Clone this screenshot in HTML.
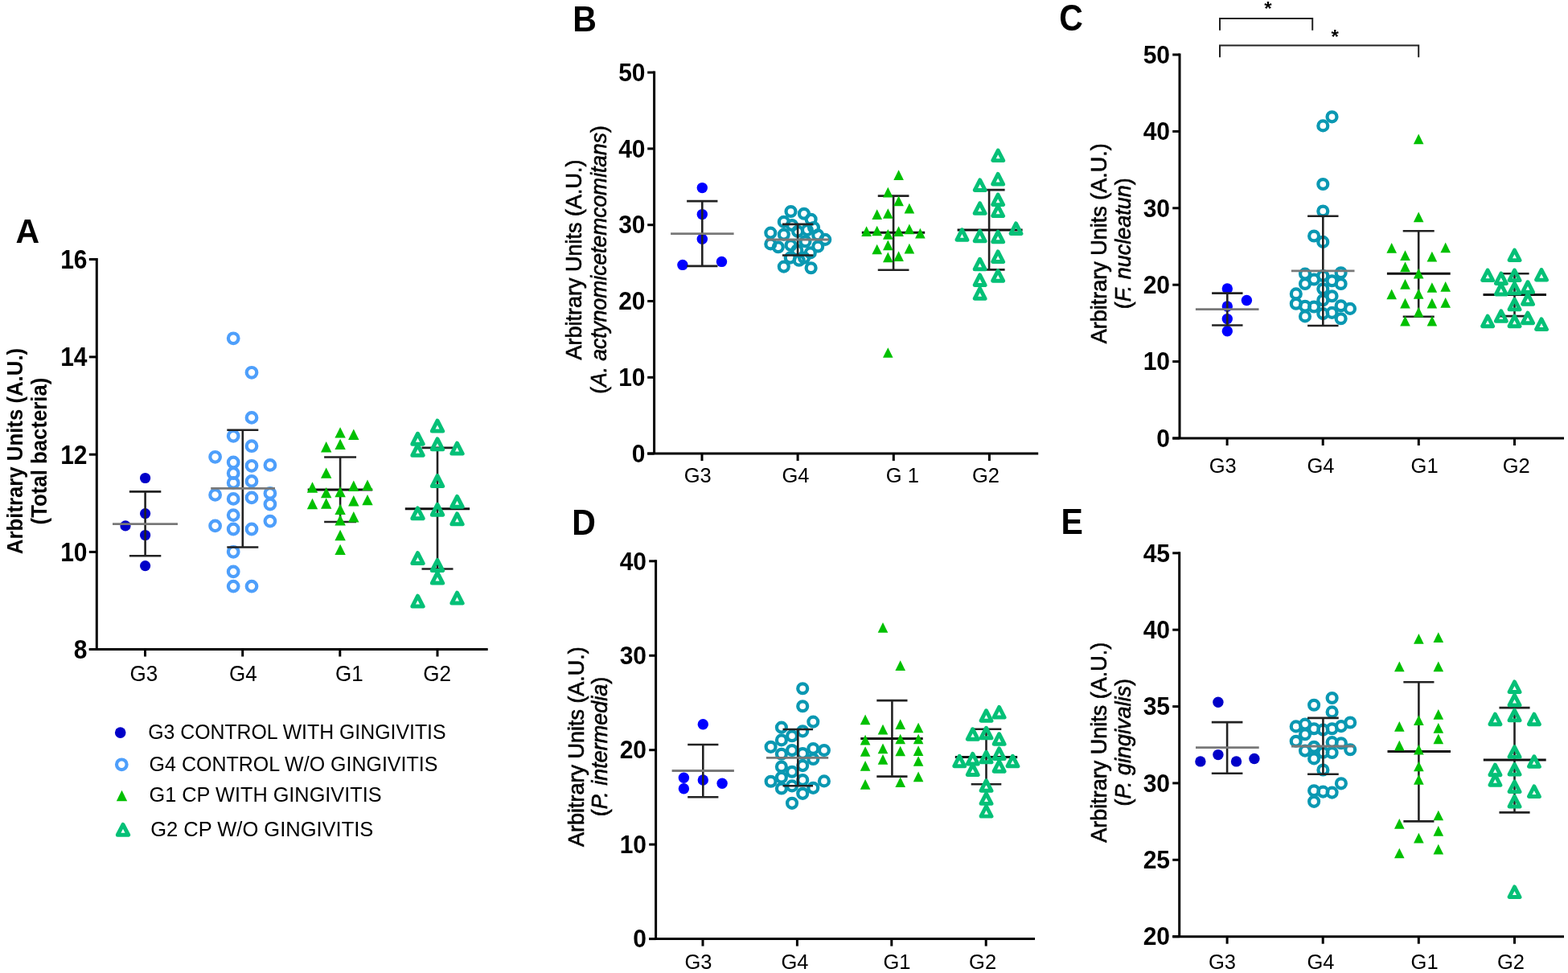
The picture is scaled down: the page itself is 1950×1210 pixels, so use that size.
<!DOCTYPE html>
<html><head><meta charset="utf-8"><title>Figure</title>
<style>html,body{margin:0;padding:0;background:#fff;}svg{display:block;}</style>
</head><body>
<svg width="1950" height="1210" viewBox="0 0 1950 1210" font-family='"Liberation Sans", Arial, sans-serif'>
<rect width="1950" height="1210" fill="#fff"/>
<text transform="translate(19.5,302) scale(1.0,1.05)" font-size="41" font-weight="bold" font-style="normal" text-anchor="start" >A</text>
<line x1="120.3" y1="321" x2="120.3" y2="807.5" stroke="#000" stroke-width="3" stroke-linecap="butt"/>
<line x1="110.8" y1="807.5" x2="606.7" y2="807.5" stroke="#000" stroke-width="3" stroke-linecap="butt"/>
<line x1="110.8" y1="322.5" x2="120.3" y2="322.5" stroke="#000" stroke-width="3" stroke-linecap="butt"/>
<text transform="translate(108.5,333.9) scale(1.0,1.08)" font-size="30" font-weight="bold" font-style="normal" text-anchor="end" >16</text>
<line x1="110.8" y1="443.9" x2="120.3" y2="443.9" stroke="#000" stroke-width="3" stroke-linecap="butt"/>
<text transform="translate(108.5,455.3) scale(1.0,1.08)" font-size="30" font-weight="bold" font-style="normal" text-anchor="end" >14</text>
<line x1="110.8" y1="565.2" x2="120.3" y2="565.2" stroke="#000" stroke-width="3" stroke-linecap="butt"/>
<text transform="translate(108.5,576.6) scale(1.0,1.08)" font-size="30" font-weight="bold" font-style="normal" text-anchor="end" >12</text>
<line x1="110.8" y1="686.4" x2="120.3" y2="686.4" stroke="#000" stroke-width="3" stroke-linecap="butt"/>
<text transform="translate(108.5,697.8) scale(1.0,1.08)" font-size="30" font-weight="bold" font-style="normal" text-anchor="end" >10</text>
<line x1="110.8" y1="807.5" x2="120.3" y2="807.5" stroke="#000" stroke-width="3" stroke-linecap="butt"/>
<text transform="translate(108.5,818.9) scale(1.0,1.08)" font-size="30" font-weight="bold" font-style="normal" text-anchor="end" >8</text>
<line x1="180.5" y1="807.5" x2="180.5" y2="816.5" stroke="#000" stroke-width="3" stroke-linecap="butt"/>
<text transform="translate(161.5,847.3) scale(1.0,1.06)" font-size="26" font-weight="normal" font-style="normal" text-anchor="start" >G3</text>
<line x1="301.7" y1="807.5" x2="301.7" y2="816.5" stroke="#000" stroke-width="3" stroke-linecap="butt"/>
<text transform="translate(285.1,847.3) scale(1.0,1.06)" font-size="26" font-weight="normal" font-style="normal" text-anchor="start" >G4</text>
<line x1="422.8" y1="807.5" x2="422.8" y2="816.5" stroke="#000" stroke-width="3" stroke-linecap="butt"/>
<text transform="translate(417.1,847.3) scale(1.0,1.06)" font-size="26" font-weight="normal" font-style="normal" text-anchor="start" >G1</text>
<line x1="544" y1="807.5" x2="544" y2="816.5" stroke="#000" stroke-width="3" stroke-linecap="butt"/>
<text transform="translate(526.3,847.3) scale(1.0,1.06)" font-size="26" font-weight="normal" font-style="normal" text-anchor="start" >G2</text>
<text transform="translate(28,561) rotate(-90) scale(0.955,1.04)" font-size="27" font-weight="bold" text-anchor="middle">Arbitrary Units (A.U.)</text>
<text transform="translate(58.2,561) rotate(-90) scale(0.955,1.04)" font-size="27" font-weight="bold" text-anchor="middle">(Total bacteria)</text>
<circle cx="180.6" cy="594.5" r="6.6" fill="#0000c8"/>
<circle cx="180.6" cy="638.6" r="6.6" fill="#0000c8"/>
<circle cx="156" cy="653.9" r="6.6" fill="#0000c8"/>
<circle cx="180.6" cy="665.5" r="6.6" fill="#0000c8"/>
<circle cx="180.6" cy="703.6" r="6.6" fill="#0000c8"/>
<line x1="180.6" y1="611.4" x2="180.6" y2="691.2" stroke="#222" stroke-width="2.6" stroke-linecap="butt"/>
<line x1="160.9" y1="611.4" x2="200.3" y2="611.4" stroke="#222" stroke-width="2.6" stroke-linecap="butt"/>
<line x1="160.9" y1="691.2" x2="200.3" y2="691.2" stroke="#222" stroke-width="2.6" stroke-linecap="butt"/>
<line x1="140" y1="651.6" x2="221" y2="651.6" stroke="#787878" stroke-width="2.8" stroke-linecap="butt"/>
<circle cx="290.2" cy="420.8" r="6.3" fill="none" stroke="#4e9ffb" stroke-width="4.2"/>
<circle cx="313" cy="463.3" r="6.3" fill="none" stroke="#4e9ffb" stroke-width="4.2"/>
<circle cx="313" cy="519.4" r="6.3" fill="none" stroke="#4e9ffb" stroke-width="4.2"/>
<circle cx="290.2" cy="542.3" r="6.3" fill="none" stroke="#4e9ffb" stroke-width="4.2"/>
<circle cx="313" cy="554.7" r="6.3" fill="none" stroke="#4e9ffb" stroke-width="4.2"/>
<circle cx="267.6" cy="568.3" r="6.3" fill="none" stroke="#4e9ffb" stroke-width="4.2"/>
<circle cx="290.2" cy="575" r="6.3" fill="none" stroke="#4e9ffb" stroke-width="4.2"/>
<circle cx="313" cy="579.3" r="6.3" fill="none" stroke="#4e9ffb" stroke-width="4.2"/>
<circle cx="335.9" cy="578.4" r="6.3" fill="none" stroke="#4e9ffb" stroke-width="4.2"/>
<circle cx="290.2" cy="588.5" r="6.3" fill="none" stroke="#4e9ffb" stroke-width="4.2"/>
<circle cx="290.2" cy="600.4" r="6.3" fill="none" stroke="#4e9ffb" stroke-width="4.2"/>
<circle cx="313" cy="598.4" r="6.3" fill="none" stroke="#4e9ffb" stroke-width="4.2"/>
<circle cx="267.6" cy="615.4" r="6.3" fill="none" stroke="#4e9ffb" stroke-width="4.2"/>
<circle cx="290.2" cy="620.4" r="6.3" fill="none" stroke="#4e9ffb" stroke-width="4.2"/>
<circle cx="313" cy="618.9" r="6.3" fill="none" stroke="#4e9ffb" stroke-width="4.2"/>
<circle cx="335.9" cy="613.4" r="6.3" fill="none" stroke="#4e9ffb" stroke-width="4.2"/>
<circle cx="335.9" cy="627" r="6.3" fill="none" stroke="#4e9ffb" stroke-width="4.2"/>
<circle cx="290.2" cy="640.6" r="6.3" fill="none" stroke="#4e9ffb" stroke-width="4.2"/>
<circle cx="335.9" cy="648.1" r="6.3" fill="none" stroke="#4e9ffb" stroke-width="4.2"/>
<circle cx="267.6" cy="653.9" r="6.3" fill="none" stroke="#4e9ffb" stroke-width="4.2"/>
<circle cx="290.2" cy="658" r="6.3" fill="none" stroke="#4e9ffb" stroke-width="4.2"/>
<circle cx="313" cy="658" r="6.3" fill="none" stroke="#4e9ffb" stroke-width="4.2"/>
<circle cx="290.2" cy="686.3" r="6.3" fill="none" stroke="#4e9ffb" stroke-width="4.2"/>
<circle cx="290.2" cy="710.9" r="6.3" fill="none" stroke="#4e9ffb" stroke-width="4.2"/>
<circle cx="290.2" cy="729.1" r="6.3" fill="none" stroke="#4e9ffb" stroke-width="4.2"/>
<circle cx="313" cy="729.1" r="6.3" fill="none" stroke="#4e9ffb" stroke-width="4.2"/>
<line x1="301.8" y1="534.8" x2="301.8" y2="680.5" stroke="#222" stroke-width="2.6" stroke-linecap="butt"/>
<line x1="282.3" y1="534.8" x2="321.3" y2="534.8" stroke="#222" stroke-width="2.6" stroke-linecap="butt"/>
<line x1="282.3" y1="680.5" x2="321.3" y2="680.5" stroke="#222" stroke-width="2.6" stroke-linecap="butt"/>
<line x1="262.2" y1="607.3" x2="342" y2="607.3" stroke="#787878" stroke-width="2.8" stroke-linecap="butt"/>
<line x1="423.1" y1="568.5" x2="423.1" y2="649" stroke="#222" stroke-width="2.6" stroke-linecap="butt"/>
<line x1="403.15" y1="568.5" x2="443.05" y2="568.5" stroke="#222" stroke-width="2.6" stroke-linecap="butt"/>
<line x1="403.15" y1="649" x2="443.05" y2="649" stroke="#222" stroke-width="2.6" stroke-linecap="butt"/>
<line x1="382.7" y1="608.9" x2="463.2" y2="608.9" stroke="#111" stroke-width="3" stroke-linecap="butt"/>
<polygon points="423.1,531.2 429.8,544.6 416.4,544.6" fill="#00c000"/>
<polygon points="439.8,533.5 446.5,546.9 433.1,546.9" fill="#00c000"/>
<polygon points="405.7,549.1 412.4,562.5 399,562.5" fill="#00c000"/>
<polygon points="423.1,545.7 429.8,559.1 416.4,559.1" fill="#00c000"/>
<polygon points="405.7,581.4 412.4,594.8 399,594.8" fill="#00c000"/>
<polygon points="388.5,599.3 395.2,612.7 381.8,612.7" fill="#00c000"/>
<polygon points="439.8,597.5 446.5,610.9 433.1,610.9" fill="#00c000"/>
<polygon points="457,596.6 463.7,610 450.3,610" fill="#00c000"/>
<polygon points="405.7,605.9 412.4,619.3 399,619.3" fill="#00c000"/>
<polygon points="423.1,604.8 429.8,618.2 416.4,618.2" fill="#00c000"/>
<polygon points="388.5,619.8 395.2,633.2 381.8,633.2" fill="#00c000"/>
<polygon points="405.7,619.3 412.4,632.7 399,632.7" fill="#00c000"/>
<polygon points="439.8,616 446.5,629.4 433.1,629.4" fill="#00c000"/>
<polygon points="457,614.9 463.7,628.3 450.3,628.3" fill="#00c000"/>
<polygon points="423.1,626.7 429.8,640.1 416.4,640.1" fill="#00c000"/>
<polygon points="423.1,640.1 429.8,653.5 416.4,653.5" fill="#00c000"/>
<polygon points="439.8,636.1 446.5,649.5 433.1,649.5" fill="#00c000"/>
<polygon points="423.1,658.8 429.8,672.2 416.4,672.2" fill="#00c000"/>
<polygon points="423.1,676.7 429.8,690.1 416.4,690.1" fill="#00c000"/>
<line x1="544" y1="556.9" x2="544" y2="707.5" stroke="#222" stroke-width="2.6" stroke-linecap="butt"/>
<line x1="524.5" y1="556.9" x2="563.5" y2="556.9" stroke="#222" stroke-width="2.6" stroke-linecap="butt"/>
<line x1="524.5" y1="707.5" x2="563.5" y2="707.5" stroke="#222" stroke-width="2.6" stroke-linecap="butt"/>
<line x1="503.8" y1="632.7" x2="584.1" y2="632.7" stroke="#111" stroke-width="3" stroke-linecap="butt"/>
<polygon points="544,523.15 550.65,536.05 537.35,536.05" fill="none" stroke="#04c077" stroke-width="5.0" stroke-linejoin="round"/>
<polygon points="519.5,539.25 526.15,552.15 512.85,552.15" fill="none" stroke="#04c077" stroke-width="5.0" stroke-linejoin="round"/>
<polygon points="544,545.95 550.65,558.85 537.35,558.85" fill="none" stroke="#04c077" stroke-width="5.0" stroke-linejoin="round"/>
<polygon points="519.5,553.35 526.15,566.25 512.85,566.25" fill="none" stroke="#04c077" stroke-width="5.0" stroke-linejoin="round"/>
<polygon points="568.5,551.15 575.15,564.05 561.85,564.05" fill="none" stroke="#04c077" stroke-width="5.0" stroke-linejoin="round"/>
<polygon points="544,591.65 550.65,604.55 537.35,604.55" fill="none" stroke="#04c077" stroke-width="5.0" stroke-linejoin="round"/>
<polygon points="568.5,617.35 575.15,630.25 561.85,630.25" fill="none" stroke="#04c077" stroke-width="5.0" stroke-linejoin="round"/>
<polygon points="519.5,631.85 526.15,644.75 512.85,644.75" fill="none" stroke="#04c077" stroke-width="5.0" stroke-linejoin="round"/>
<polygon points="544,627.35 550.65,640.25 537.35,640.25" fill="none" stroke="#04c077" stroke-width="5.0" stroke-linejoin="round"/>
<polygon points="568.5,638.95 575.15,651.85 561.85,651.85" fill="none" stroke="#04c077" stroke-width="5.0" stroke-linejoin="round"/>
<polygon points="519.5,687.65 526.15,700.55 512.85,700.55" fill="none" stroke="#04c077" stroke-width="5.0" stroke-linejoin="round"/>
<polygon points="544,696.55 550.65,709.45 537.35,709.45" fill="none" stroke="#04c077" stroke-width="5.0" stroke-linejoin="round"/>
<polygon points="544,712.15 550.65,725.05 537.35,725.05" fill="none" stroke="#04c077" stroke-width="5.0" stroke-linejoin="round"/>
<polygon points="519.5,741.15 526.15,754.05 512.85,754.05" fill="none" stroke="#04c077" stroke-width="5.0" stroke-linejoin="round"/>
<polygon points="568.5,737.15 575.15,750.05 561.85,750.05" fill="none" stroke="#04c077" stroke-width="5.0" stroke-linejoin="round"/>
<circle cx="149.7" cy="911.1" r="6.8" fill="#0000c8"/>
<text transform="translate(184.2,918.9) scale(0.994,1.04)" font-size="25" font-weight="normal" font-style="normal" text-anchor="start" >G3 CONTROL WITH GINGIVITIS</text>
<circle cx="151.3" cy="950.8" r="6.3" fill="none" stroke="#4e9ffb" stroke-width="4.2"/>
<text transform="translate(185.6,958.6) scale(1.0,1.04)" font-size="25" font-weight="normal" font-style="normal" text-anchor="start" >G4 CONTROL W/O GINGIVITIS</text>
<polygon points="151.5,982.8 158.2,996.2 144.8,996.2" fill="#00c000"/>
<text transform="translate(185.6,997.2) scale(1.0,1.04)" font-size="25.3" font-weight="normal" font-style="normal" text-anchor="start" >G1 CP WITH GINGIVITIS</text>
<polygon points="153,1025.35 159.65,1038.25 146.35,1038.25" fill="none" stroke="#04c077" stroke-width="5.0" stroke-linejoin="round"/>
<text transform="translate(187.2,1040) scale(1.0,1.04)" font-size="25.5" font-weight="normal" font-style="normal" text-anchor="start" >G2 CP W/O GINGIVITIS</text>
<text transform="translate(712.3,38.9) scale(1.0,1.07)" font-size="41" font-weight="bold" font-style="normal" text-anchor="start" >B</text>
<line x1="813.6" y1="88.6" x2="813.6" y2="564.1" stroke="#000" stroke-width="3" stroke-linecap="butt"/>
<line x1="805.2" y1="564.1" x2="1291.2" y2="564.1" stroke="#000" stroke-width="3" stroke-linecap="butt"/>
<line x1="805.2" y1="90.1" x2="813.6" y2="90.1" stroke="#000" stroke-width="3" stroke-linecap="butt"/>
<text transform="translate(802.5,100.8) scale(1.0,1.04)" font-size="30" font-weight="bold" font-style="normal" text-anchor="end" >50</text>
<line x1="805.2" y1="184.9" x2="813.6" y2="184.9" stroke="#000" stroke-width="3" stroke-linecap="butt"/>
<text transform="translate(802.5,195.6) scale(1.0,1.04)" font-size="30" font-weight="bold" font-style="normal" text-anchor="end" >40</text>
<line x1="805.2" y1="279.7" x2="813.6" y2="279.7" stroke="#000" stroke-width="3" stroke-linecap="butt"/>
<text transform="translate(802.5,290.4) scale(1.0,1.04)" font-size="30" font-weight="bold" font-style="normal" text-anchor="end" >30</text>
<line x1="805.2" y1="374.5" x2="813.6" y2="374.5" stroke="#000" stroke-width="3" stroke-linecap="butt"/>
<text transform="translate(802.5,385.2) scale(1.0,1.04)" font-size="30" font-weight="bold" font-style="normal" text-anchor="end" >20</text>
<line x1="805.2" y1="469.3" x2="813.6" y2="469.3" stroke="#000" stroke-width="3" stroke-linecap="butt"/>
<text transform="translate(802.5,480) scale(1.0,1.04)" font-size="30" font-weight="bold" font-style="normal" text-anchor="end" >10</text>
<line x1="805.2" y1="564.1" x2="813.6" y2="564.1" stroke="#000" stroke-width="3" stroke-linecap="butt"/>
<text transform="translate(802.5,574.8) scale(1.0,1.04)" font-size="30" font-weight="bold" font-style="normal" text-anchor="end" >0</text>
<line x1="873" y1="564.1" x2="873" y2="573.1" stroke="#000" stroke-width="3" stroke-linecap="butt"/>
<text transform="translate(850.8,599.7) scale(1.0,1.04)" font-size="25.5" font-weight="normal" font-style="normal" text-anchor="start" >G3</text>
<line x1="992.1" y1="564.1" x2="992.1" y2="573.1" stroke="#000" stroke-width="3" stroke-linecap="butt"/>
<text transform="translate(972.5,599.7) scale(1.0,1.04)" font-size="25.5" font-weight="normal" font-style="normal" text-anchor="start" >G4</text>
<line x1="1111.3" y1="564.1" x2="1111.3" y2="573.1" stroke="#000" stroke-width="3" stroke-linecap="butt"/>
<text transform="translate(1101.8,599.7) scale(1.0,1.04)" font-size="25.5" font-weight="normal" font-style="normal" text-anchor="start" >G 1</text>
<line x1="1230.4" y1="564.1" x2="1230.4" y2="573.1" stroke="#000" stroke-width="3" stroke-linecap="butt"/>
<text transform="translate(1209,599.7) scale(1.0,1.04)" font-size="25.5" font-weight="normal" font-style="normal" text-anchor="start" >G2</text>
<text transform="translate(723,323) rotate(-90) scale(1.0,1.04)" font-size="27" font-weight="normal" text-anchor="middle" stroke="#000" stroke-width="0.6">Arbitrary Units (A.U.)</text>
<text transform="translate(754,323) rotate(-90) scale(0.98,1.04)" font-size="27" font-weight="normal" text-anchor="middle" stroke="#000" stroke-width="0.6">(<tspan font-style="italic">A. actynomicetemcomitans</tspan>)</text>
<circle cx="873.3" cy="233.6" r="6.7" fill="#0000ff"/>
<circle cx="873.3" cy="266.6" r="6.7" fill="#0000ff"/>
<circle cx="873.3" cy="297.3" r="6.7" fill="#0000ff"/>
<circle cx="848.9" cy="329.4" r="6.7" fill="#0000ff"/>
<circle cx="897.5" cy="325.4" r="6.7" fill="#0000ff"/>
<line x1="873.3" y1="250.1" x2="873.3" y2="330.9" stroke="#222" stroke-width="2.6" stroke-linecap="butt"/>
<line x1="854.15" y1="250.1" x2="892.45" y2="250.1" stroke="#222" stroke-width="2.6" stroke-linecap="butt"/>
<line x1="854.15" y1="330.9" x2="892.45" y2="330.9" stroke="#222" stroke-width="2.6" stroke-linecap="butt"/>
<line x1="834.1" y1="290.6" x2="912.6" y2="290.6" stroke="#787878" stroke-width="2.8" stroke-linecap="butt"/>
<circle cx="983.5" cy="263" r="5.95" fill="none" stroke="#0a98b2" stroke-width="4.25"/>
<circle cx="999.9" cy="265.7" r="5.95" fill="none" stroke="#0a98b2" stroke-width="4.25"/>
<circle cx="1008.6" cy="272.8" r="5.95" fill="none" stroke="#0a98b2" stroke-width="4.25"/>
<circle cx="974.8" cy="275.9" r="5.95" fill="none" stroke="#0a98b2" stroke-width="4.25"/>
<circle cx="958.3" cy="289.6" r="5.95" fill="none" stroke="#0a98b2" stroke-width="4.25"/>
<circle cx="974.8" cy="291.6" r="5.95" fill="none" stroke="#0a98b2" stroke-width="4.25"/>
<circle cx="992.1" cy="287.7" r="5.95" fill="none" stroke="#0a98b2" stroke-width="4.25"/>
<circle cx="1003.9" cy="286.1" r="5.95" fill="none" stroke="#0a98b2" stroke-width="4.25"/>
<circle cx="1017.2" cy="292.4" r="5.95" fill="none" stroke="#0a98b2" stroke-width="4.25"/>
<circle cx="1026.2" cy="297.9" r="5.95" fill="none" stroke="#0a98b2" stroke-width="4.25"/>
<circle cx="958.3" cy="303.4" r="5.95" fill="none" stroke="#0a98b2" stroke-width="4.25"/>
<circle cx="967.8" cy="307.3" r="5.95" fill="none" stroke="#0a98b2" stroke-width="4.25"/>
<circle cx="983.5" cy="305" r="5.95" fill="none" stroke="#0a98b2" stroke-width="4.25"/>
<circle cx="991.3" cy="311.2" r="5.95" fill="none" stroke="#0a98b2" stroke-width="4.25"/>
<circle cx="1001.5" cy="300.2" r="5.95" fill="none" stroke="#0a98b2" stroke-width="4.25"/>
<circle cx="1007.8" cy="314.4" r="5.95" fill="none" stroke="#0a98b2" stroke-width="4.25"/>
<circle cx="1017.2" cy="306.5" r="5.95" fill="none" stroke="#0a98b2" stroke-width="4.25"/>
<circle cx="982.7" cy="320.6" r="5.95" fill="none" stroke="#0a98b2" stroke-width="4.25"/>
<circle cx="993.7" cy="323.8" r="5.95" fill="none" stroke="#0a98b2" stroke-width="4.25"/>
<circle cx="974.8" cy="331.6" r="5.95" fill="none" stroke="#0a98b2" stroke-width="4.25"/>
<circle cx="1008.6" cy="333.2" r="5.95" fill="none" stroke="#0a98b2" stroke-width="4.25"/>
<circle cx="1000" cy="320.6" r="5.95" fill="none" stroke="#0a98b2" stroke-width="4.25"/>
<circle cx="985" cy="280" r="5.95" fill="none" stroke="#0a98b2" stroke-width="4.25"/>
<circle cx="1012" cy="283" r="5.95" fill="none" stroke="#0a98b2" stroke-width="4.25"/>
<line x1="992.1" y1="278.9" x2="992.1" y2="317.5" stroke="#222" stroke-width="2.6" stroke-linecap="butt"/>
<line x1="972.9" y1="278.9" x2="1011.3" y2="278.9" stroke="#222" stroke-width="2.6" stroke-linecap="butt"/>
<line x1="972.9" y1="317.5" x2="1011.3" y2="317.5" stroke="#222" stroke-width="2.6" stroke-linecap="butt"/>
<line x1="952.8" y1="298" x2="1031" y2="298" stroke="#787878" stroke-width="2.8" stroke-linecap="butt"/>
<line x1="1111.1" y1="243.6" x2="1111.1" y2="335.8" stroke="#222" stroke-width="2.6" stroke-linecap="butt"/>
<line x1="1091.75" y1="243.6" x2="1130.45" y2="243.6" stroke="#222" stroke-width="2.6" stroke-linecap="butt"/>
<line x1="1091.75" y1="335.8" x2="1130.45" y2="335.8" stroke="#222" stroke-width="2.6" stroke-linecap="butt"/>
<line x1="1071.8" y1="289.2" x2="1150.2" y2="289.2" stroke="#111" stroke-width="3" stroke-linecap="butt"/>
<polygon points="1117.6,211.25 1123.9,223.95 1111.3,223.95" fill="#00c000"/>
<polygon points="1104.3,232.75 1110.6,245.45 1098,245.45" fill="#00c000"/>
<polygon points="1117.6,243.45 1123.9,256.15 1111.3,256.15" fill="#00c000"/>
<polygon points="1130.9,252.75 1137.2,265.45 1124.6,265.45" fill="#00c000"/>
<polygon points="1090.7,260.25 1097,272.95 1084.4,272.95" fill="#00c000"/>
<polygon points="1104.3,259.15 1110.6,271.85 1098,271.85" fill="#00c000"/>
<polygon points="1077.6,281.35 1083.9,294.05 1071.3,294.05" fill="#00c000"/>
<polygon points="1090.7,280.65 1097,293.35 1084.4,293.35" fill="#00c000"/>
<polygon points="1104.3,284.95 1110.6,297.65 1098,297.65" fill="#00c000"/>
<polygon points="1117.6,281.35 1123.9,294.05 1111.3,294.05" fill="#00c000"/>
<polygon points="1130.9,278.55 1137.2,291.25 1124.6,291.25" fill="#00c000"/>
<polygon points="1144.4,283.85 1150.7,296.55 1138.1,296.55" fill="#00c000"/>
<polygon points="1104.3,298.45 1110.6,311.15 1098,311.15" fill="#00c000"/>
<polygon points="1090.7,303.65 1097,316.35 1084.4,316.35" fill="#00c000"/>
<polygon points="1130.9,302.75 1137.2,315.45 1124.6,315.45" fill="#00c000"/>
<polygon points="1104.3,313.55 1110.6,326.25 1098,326.25" fill="#00c000"/>
<polygon points="1117.6,312.25 1123.9,324.95 1111.3,324.95" fill="#00c000"/>
<polygon points="1104.3,432.15 1110.6,444.85 1098,444.85" fill="#00c000"/>
<line x1="1230.1" y1="236.1" x2="1230.1" y2="335.4" stroke="#222" stroke-width="2.6" stroke-linecap="butt"/>
<line x1="1210.6" y1="236.1" x2="1249.6" y2="236.1" stroke="#222" stroke-width="2.6" stroke-linecap="butt"/>
<line x1="1210.6" y1="335.4" x2="1249.6" y2="335.4" stroke="#222" stroke-width="2.6" stroke-linecap="butt"/>
<line x1="1190.6" y1="285.9" x2="1271.6" y2="285.9" stroke="#111" stroke-width="3" stroke-linecap="butt"/>
<polygon points="1241.2,187 1247.7,199.6 1234.7,199.6" fill="none" stroke="#04c077" stroke-width="4.9" stroke-linejoin="round"/>
<polygon points="1241.1,216.4 1247.6,229 1234.6,229" fill="none" stroke="#04c077" stroke-width="4.9" stroke-linejoin="round"/>
<polygon points="1218.7,223.9 1225.2,236.5 1212.2,236.5" fill="none" stroke="#04c077" stroke-width="4.9" stroke-linejoin="round"/>
<polygon points="1241.1,242 1247.6,254.6 1234.6,254.6" fill="none" stroke="#04c077" stroke-width="4.9" stroke-linejoin="round"/>
<polygon points="1218.6,252.8 1225.1,265.4 1212.1,265.4" fill="none" stroke="#04c077" stroke-width="4.9" stroke-linejoin="round"/>
<polygon points="1241.1,256 1247.6,268.6 1234.6,268.6" fill="none" stroke="#04c077" stroke-width="4.9" stroke-linejoin="round"/>
<polygon points="1263.5,277.9 1270,290.5 1257,290.5" fill="none" stroke="#04c077" stroke-width="4.9" stroke-linejoin="round"/>
<polygon points="1196.4,285.7 1202.9,298.3 1189.9,298.3" fill="none" stroke="#04c077" stroke-width="4.9" stroke-linejoin="round"/>
<polygon points="1218.6,287.2 1225.1,299.8 1212.1,299.8" fill="none" stroke="#04c077" stroke-width="4.9" stroke-linejoin="round"/>
<polygon points="1241.1,288.2 1247.6,300.8 1234.6,300.8" fill="none" stroke="#04c077" stroke-width="4.9" stroke-linejoin="round"/>
<polygon points="1241.1,312.9 1247.6,325.5 1234.6,325.5" fill="none" stroke="#04c077" stroke-width="4.9" stroke-linejoin="round"/>
<polygon points="1218.6,322.2 1225.1,334.8 1212.1,334.8" fill="none" stroke="#04c077" stroke-width="4.9" stroke-linejoin="round"/>
<polygon points="1241.1,336.6 1247.6,349.2 1234.6,349.2" fill="none" stroke="#04c077" stroke-width="4.9" stroke-linejoin="round"/>
<polygon points="1218.6,341.9 1225.1,354.5 1212.1,354.5" fill="none" stroke="#04c077" stroke-width="4.9" stroke-linejoin="round"/>
<polygon points="1218.6,358.7 1225.1,371.3 1212.1,371.3" fill="none" stroke="#04c077" stroke-width="4.9" stroke-linejoin="round"/>
<text transform="translate(1317.3,38.4) scale(1.0,1.12)" font-size="41" font-weight="bold" font-style="normal" text-anchor="start" >C</text>
<line x1="1467" y1="66.5" x2="1467" y2="545" stroke="#000" stroke-width="3" stroke-linecap="butt"/>
<line x1="1458.2" y1="545" x2="1945" y2="545" stroke="#000" stroke-width="3" stroke-linecap="butt"/>
<line x1="1458.2" y1="68" x2="1467" y2="68" stroke="#000" stroke-width="3" stroke-linecap="butt"/>
<text transform="translate(1455,78.7) scale(1.0,1.04)" font-size="30" font-weight="bold" font-style="normal" text-anchor="end" >50</text>
<line x1="1458.2" y1="163.4" x2="1467" y2="163.4" stroke="#000" stroke-width="3" stroke-linecap="butt"/>
<text transform="translate(1455,174.1) scale(1.0,1.04)" font-size="30" font-weight="bold" font-style="normal" text-anchor="end" >40</text>
<line x1="1458.2" y1="258.8" x2="1467" y2="258.8" stroke="#000" stroke-width="3" stroke-linecap="butt"/>
<text transform="translate(1455,269.5) scale(1.0,1.04)" font-size="30" font-weight="bold" font-style="normal" text-anchor="end" >30</text>
<line x1="1458.2" y1="354.2" x2="1467" y2="354.2" stroke="#000" stroke-width="3" stroke-linecap="butt"/>
<text transform="translate(1455,364.9) scale(1.0,1.04)" font-size="30" font-weight="bold" font-style="normal" text-anchor="end" >20</text>
<line x1="1458.2" y1="449.6" x2="1467" y2="449.6" stroke="#000" stroke-width="3" stroke-linecap="butt"/>
<text transform="translate(1455,460.3) scale(1.0,1.04)" font-size="30" font-weight="bold" font-style="normal" text-anchor="end" >10</text>
<line x1="1458.2" y1="545" x2="1467" y2="545" stroke="#000" stroke-width="3" stroke-linecap="butt"/>
<text transform="translate(1455,555.7) scale(1.0,1.04)" font-size="30" font-weight="bold" font-style="normal" text-anchor="end" >0</text>
<line x1="1526.1" y1="545" x2="1526.1" y2="554" stroke="#000" stroke-width="3" stroke-linecap="butt"/>
<text transform="translate(1503.7,587.8) scale(1.0,1.04)" font-size="25.5" font-weight="normal" font-style="normal" text-anchor="start" >G3</text>
<line x1="1645.2" y1="545" x2="1645.2" y2="554" stroke="#000" stroke-width="3" stroke-linecap="butt"/>
<text transform="translate(1625.4,587.8) scale(1.0,1.04)" font-size="25.5" font-weight="normal" font-style="normal" text-anchor="start" >G4</text>
<line x1="1764.3" y1="545" x2="1764.3" y2="554" stroke="#000" stroke-width="3" stroke-linecap="butt"/>
<text transform="translate(1754.6,587.8) scale(1.0,1.04)" font-size="25.5" font-weight="normal" font-style="normal" text-anchor="start" >G1</text>
<line x1="1883.5" y1="545" x2="1883.5" y2="554" stroke="#000" stroke-width="3" stroke-linecap="butt"/>
<text transform="translate(1868.8,587.8) scale(1.0,1.04)" font-size="25.5" font-weight="normal" font-style="normal" text-anchor="start" >G2</text>
<text transform="translate(1375.6,302.8) rotate(-90) scale(1.0,1.04)" font-size="27" font-weight="normal" text-anchor="middle" stroke="#000" stroke-width="0.6">Arbitrary Units (A.U.)</text>
<text transform="translate(1406,302.8) rotate(-90) scale(1.0,1.04)" font-size="27" font-weight="normal" text-anchor="middle" stroke="#000" stroke-width="0.6">(<tspan font-style="italic">F. nucleatun</tspan>)</text>
<polyline points="1517,37.8 1517,23.1 1632.2,23.1 1632.2,37.8" fill="none" stroke="#222" stroke-width="2"/>
<polyline points="1517,71.2 1517,56.5 1764.2,56.5 1764.2,71.2" fill="none" stroke="#222" stroke-width="2"/>
<text x="1576.8" y="18.7" font-size="24" font-weight="bold" font-style="normal" text-anchor="middle" >*</text>
<text x="1660.1" y="53.5" font-size="24" font-weight="bold" font-style="normal" text-anchor="middle" >*</text>
<circle cx="1526.3" cy="358.9" r="6.7" fill="#0000ff"/>
<circle cx="1550.4" cy="373.5" r="6.7" fill="#0000ff"/>
<circle cx="1526.3" cy="381" r="6.7" fill="#0000ff"/>
<circle cx="1526.3" cy="396.6" r="6.7" fill="#0000ff"/>
<circle cx="1526.3" cy="411.7" r="6.7" fill="#0000ff"/>
<line x1="1526.3" y1="364.6" x2="1526.3" y2="404.5" stroke="#222" stroke-width="2.6" stroke-linecap="butt"/>
<line x1="1507.1" y1="364.6" x2="1545.5" y2="364.6" stroke="#222" stroke-width="2.6" stroke-linecap="butt"/>
<line x1="1507.1" y1="404.5" x2="1545.5" y2="404.5" stroke="#222" stroke-width="2.6" stroke-linecap="butt"/>
<line x1="1486.9" y1="384.7" x2="1565.5" y2="384.7" stroke="#787878" stroke-width="2.8" stroke-linecap="butt"/>
<circle cx="1656.5" cy="145.3" r="5.95" fill="none" stroke="#0a98b2" stroke-width="4.25"/>
<circle cx="1645.3" cy="156.4" r="5.95" fill="none" stroke="#0a98b2" stroke-width="4.25"/>
<circle cx="1645.3" cy="229" r="5.95" fill="none" stroke="#0a98b2" stroke-width="4.25"/>
<circle cx="1645.3" cy="262.5" r="5.95" fill="none" stroke="#0a98b2" stroke-width="4.25"/>
<circle cx="1634.1" cy="293.5" r="5.95" fill="none" stroke="#0a98b2" stroke-width="4.25"/>
<circle cx="1645.3" cy="300.9" r="5.95" fill="none" stroke="#0a98b2" stroke-width="4.25"/>
<circle cx="1623" cy="340.6" r="5.95" fill="none" stroke="#0a98b2" stroke-width="4.25"/>
<circle cx="1667.6" cy="339.3" r="5.95" fill="none" stroke="#0a98b2" stroke-width="4.25"/>
<circle cx="1645.3" cy="343" r="5.95" fill="none" stroke="#0a98b2" stroke-width="4.25"/>
<circle cx="1634.1" cy="347.5" r="5.95" fill="none" stroke="#0a98b2" stroke-width="4.25"/>
<circle cx="1656.5" cy="349.2" r="5.95" fill="none" stroke="#0a98b2" stroke-width="4.25"/>
<circle cx="1623" cy="353" r="5.95" fill="none" stroke="#0a98b2" stroke-width="4.25"/>
<circle cx="1667.6" cy="353" r="5.95" fill="none" stroke="#0a98b2" stroke-width="4.25"/>
<circle cx="1645.3" cy="359.2" r="5.95" fill="none" stroke="#0a98b2" stroke-width="4.25"/>
<circle cx="1611.8" cy="365.4" r="5.95" fill="none" stroke="#0a98b2" stroke-width="4.25"/>
<circle cx="1656.5" cy="368.3" r="5.95" fill="none" stroke="#0a98b2" stroke-width="4.25"/>
<circle cx="1645.3" cy="373.3" r="5.95" fill="none" stroke="#0a98b2" stroke-width="4.25"/>
<circle cx="1611.8" cy="377.7" r="5.95" fill="none" stroke="#0a98b2" stroke-width="4.25"/>
<circle cx="1623" cy="380.7" r="5.95" fill="none" stroke="#0a98b2" stroke-width="4.25"/>
<circle cx="1634.1" cy="381.5" r="5.95" fill="none" stroke="#0a98b2" stroke-width="4.25"/>
<circle cx="1667.6" cy="380.2" r="5.95" fill="none" stroke="#0a98b2" stroke-width="4.25"/>
<circle cx="1679" cy="383.9" r="5.95" fill="none" stroke="#0a98b2" stroke-width="4.25"/>
<circle cx="1645.3" cy="390.1" r="5.95" fill="none" stroke="#0a98b2" stroke-width="4.25"/>
<circle cx="1656.5" cy="388.9" r="5.95" fill="none" stroke="#0a98b2" stroke-width="4.25"/>
<circle cx="1623" cy="393.4" r="5.95" fill="none" stroke="#0a98b2" stroke-width="4.25"/>
<circle cx="1667.6" cy="396.3" r="5.95" fill="none" stroke="#0a98b2" stroke-width="4.25"/>
<line x1="1645.3" y1="268.7" x2="1645.3" y2="405" stroke="#222" stroke-width="2.6" stroke-linecap="butt"/>
<line x1="1626.1" y1="268.7" x2="1664.5" y2="268.7" stroke="#222" stroke-width="2.6" stroke-linecap="butt"/>
<line x1="1626.1" y1="405" x2="1664.5" y2="405" stroke="#222" stroke-width="2.6" stroke-linecap="butt"/>
<line x1="1605.9" y1="336.9" x2="1684.5" y2="336.9" stroke="#787878" stroke-width="2.8" stroke-linecap="butt"/>
<line x1="1764.2" y1="287.2" x2="1764.2" y2="393.8" stroke="#222" stroke-width="2.6" stroke-linecap="butt"/>
<line x1="1744.7" y1="287.2" x2="1783.7" y2="287.2" stroke="#222" stroke-width="2.6" stroke-linecap="butt"/>
<line x1="1744.7" y1="393.8" x2="1783.7" y2="393.8" stroke="#222" stroke-width="2.6" stroke-linecap="butt"/>
<line x1="1724.9" y1="340.3" x2="1803.7" y2="340.3" stroke="#111" stroke-width="3" stroke-linecap="butt"/>
<polygon points="1764.2,166.45 1770.5,179.15 1757.9,179.15" fill="#00c000"/>
<polygon points="1764.2,263.45 1770.5,276.15 1757.9,276.15" fill="#00c000"/>
<polygon points="1730.7,302.05 1737,314.75 1724.4,314.75" fill="#00c000"/>
<polygon points="1797.7,301.55 1804,314.25 1791.4,314.25" fill="#00c000"/>
<polygon points="1747.5,311.35 1753.8,324.05 1741.2,324.05" fill="#00c000"/>
<polygon points="1780.9,312.75 1787.2,325.45 1774.6,325.45" fill="#00c000"/>
<polygon points="1747.5,325.45 1753.8,338.15 1741.2,338.15" fill="#00c000"/>
<polygon points="1764.2,333.75 1770.5,346.45 1757.9,346.45" fill="#00c000"/>
<polygon points="1747.5,347.05 1753.8,359.75 1741.2,359.75" fill="#00c000"/>
<polygon points="1780.9,351.15 1787.2,363.85 1774.6,363.85" fill="#00c000"/>
<polygon points="1797.7,349.95 1804,362.65 1791.4,362.65" fill="#00c000"/>
<polygon points="1730.7,359.55 1737,372.25 1724.4,372.25" fill="#00c000"/>
<polygon points="1764.2,358.95 1770.5,371.65 1757.9,371.65" fill="#00c000"/>
<polygon points="1747.5,370.75 1753.8,383.45 1741.2,383.45" fill="#00c000"/>
<polygon points="1780.9,370.75 1787.2,383.45 1774.6,383.45" fill="#00c000"/>
<polygon points="1797.7,370.05 1804,382.75 1791.4,382.75" fill="#00c000"/>
<polygon points="1764.2,381.85 1770.5,394.55 1757.9,394.55" fill="#00c000"/>
<polygon points="1747.5,392.85 1753.8,405.55 1741.2,405.55" fill="#00c000"/>
<polygon points="1780.9,392.85 1787.2,405.55 1774.6,405.55" fill="#00c000"/>
<line x1="1883.5" y1="340.3" x2="1883.5" y2="393.1" stroke="#222" stroke-width="2.6" stroke-linecap="butt"/>
<line x1="1865.4" y1="340.3" x2="1901.6" y2="340.3" stroke="#222" stroke-width="2.6" stroke-linecap="butt"/>
<line x1="1865.4" y1="393.1" x2="1901.6" y2="393.1" stroke="#222" stroke-width="2.6" stroke-linecap="butt"/>
<line x1="1844.5" y1="366.4" x2="1923" y2="366.4" stroke="#111" stroke-width="3" stroke-linecap="butt"/>
<polygon points="1883.5,311 1890,323.6 1877,323.6" fill="none" stroke="#04c077" stroke-width="4.9" stroke-linejoin="round"/>
<polygon points="1850.1,336 1856.6,348.6 1843.6,348.6" fill="none" stroke="#04c077" stroke-width="4.9" stroke-linejoin="round"/>
<polygon points="1866.8,340 1873.3,352.6 1860.3,352.6" fill="none" stroke="#04c077" stroke-width="4.9" stroke-linejoin="round"/>
<polygon points="1883.5,336 1890,348.6 1877,348.6" fill="none" stroke="#04c077" stroke-width="4.9" stroke-linejoin="round"/>
<polygon points="1917,335.5 1923.5,348.1 1910.5,348.1" fill="none" stroke="#04c077" stroke-width="4.9" stroke-linejoin="round"/>
<polygon points="1866.8,353.4 1873.3,366 1860.3,366" fill="none" stroke="#04c077" stroke-width="4.9" stroke-linejoin="round"/>
<polygon points="1883.5,352.3 1890,364.9 1877,364.9" fill="none" stroke="#04c077" stroke-width="4.9" stroke-linejoin="round"/>
<polygon points="1900,350.7 1906.5,363.3 1893.5,363.3" fill="none" stroke="#04c077" stroke-width="4.9" stroke-linejoin="round"/>
<polygon points="1900,365.7 1906.5,378.3 1893.5,378.3" fill="none" stroke="#04c077" stroke-width="4.9" stroke-linejoin="round"/>
<polygon points="1883.5,372.3 1890,384.9 1877,384.9" fill="none" stroke="#04c077" stroke-width="4.9" stroke-linejoin="round"/>
<polygon points="1866.8,386.8 1873.3,399.4 1860.3,399.4" fill="none" stroke="#04c077" stroke-width="4.9" stroke-linejoin="round"/>
<polygon points="1850.1,393.1 1856.6,405.7 1843.6,405.7" fill="none" stroke="#04c077" stroke-width="4.9" stroke-linejoin="round"/>
<polygon points="1883.5,393.1 1890,405.7 1877,405.7" fill="none" stroke="#04c077" stroke-width="4.9" stroke-linejoin="round"/>
<polygon points="1900,389.1 1906.5,401.7 1893.5,401.7" fill="none" stroke="#04c077" stroke-width="4.9" stroke-linejoin="round"/>
<polygon points="1917,396.9 1923.5,409.5 1910.5,409.5" fill="none" stroke="#04c077" stroke-width="4.9" stroke-linejoin="round"/>
<text transform="translate(711.2,664.5) scale(1.0,1.07)" font-size="41" font-weight="bold" font-style="normal" text-anchor="start" >D</text>
<line x1="815.6" y1="696.3" x2="815.6" y2="1167.6" stroke="#000" stroke-width="3" stroke-linecap="butt"/>
<line x1="807.2" y1="1167.6" x2="1287" y2="1167.6" stroke="#000" stroke-width="3" stroke-linecap="butt"/>
<line x1="807.2" y1="697.8" x2="815.6" y2="697.8" stroke="#000" stroke-width="3" stroke-linecap="butt"/>
<text transform="translate(804,708.5) scale(1.0,1.04)" font-size="30" font-weight="bold" font-style="normal" text-anchor="end" >40</text>
<line x1="807.2" y1="815.25" x2="815.6" y2="815.25" stroke="#000" stroke-width="3" stroke-linecap="butt"/>
<text transform="translate(804,825.95) scale(1.0,1.04)" font-size="30" font-weight="bold" font-style="normal" text-anchor="end" >30</text>
<line x1="807.2" y1="932.7" x2="815.6" y2="932.7" stroke="#000" stroke-width="3" stroke-linecap="butt"/>
<text transform="translate(804,943.4) scale(1.0,1.04)" font-size="30" font-weight="bold" font-style="normal" text-anchor="end" >20</text>
<line x1="807.2" y1="1050.15" x2="815.6" y2="1050.15" stroke="#000" stroke-width="3" stroke-linecap="butt"/>
<text transform="translate(804,1060.85) scale(1.0,1.04)" font-size="30" font-weight="bold" font-style="normal" text-anchor="end" >10</text>
<line x1="807.2" y1="1167.6" x2="815.6" y2="1167.6" stroke="#000" stroke-width="3" stroke-linecap="butt"/>
<text transform="translate(804,1178.3) scale(1.0,1.04)" font-size="30" font-weight="bold" font-style="normal" text-anchor="end" >0</text>
<line x1="874" y1="1167.6" x2="874" y2="1176.6" stroke="#000" stroke-width="3" stroke-linecap="butt"/>
<text transform="translate(851.5,1204.7) scale(1.0,1.04)" font-size="25.5" font-weight="normal" font-style="normal" text-anchor="start" >G3</text>
<line x1="991.4" y1="1167.6" x2="991.4" y2="1176.6" stroke="#000" stroke-width="3" stroke-linecap="butt"/>
<text transform="translate(971.5,1204.7) scale(1.0,1.04)" font-size="25.5" font-weight="normal" font-style="normal" text-anchor="start" >G4</text>
<line x1="1108.8" y1="1167.6" x2="1108.8" y2="1176.6" stroke="#000" stroke-width="3" stroke-linecap="butt"/>
<text transform="translate(1098.5,1204.7) scale(1.0,1.04)" font-size="25.5" font-weight="normal" font-style="normal" text-anchor="start" >G1</text>
<line x1="1226.2" y1="1167.6" x2="1226.2" y2="1176.6" stroke="#000" stroke-width="3" stroke-linecap="butt"/>
<text transform="translate(1205.1,1204.7) scale(1.0,1.04)" font-size="25.5" font-weight="normal" font-style="normal" text-anchor="start" >G2</text>
<text transform="translate(725.6,928.6) rotate(-90) scale(1.0,1.04)" font-size="27" font-weight="normal" text-anchor="middle" stroke="#000" stroke-width="0.6">Arbitrary Units (A.U.)</text>
<text transform="translate(755,928.6) rotate(-90) scale(1.0,1.04)" font-size="27" font-weight="normal" text-anchor="middle" stroke="#000" stroke-width="0.6">(<tspan font-style="italic">P. intermedia</tspan>)</text>
<circle cx="874.3" cy="900.8" r="6.7" fill="#0000ff"/>
<circle cx="850.4" cy="967.2" r="6.7" fill="#0000ff"/>
<circle cx="874.3" cy="970" r="6.7" fill="#0000ff"/>
<circle cx="898.1" cy="974.2" r="6.7" fill="#0000ff"/>
<circle cx="850.4" cy="980.8" r="6.7" fill="#0000ff"/>
<line x1="874.3" y1="926" x2="874.3" y2="991.3" stroke="#222" stroke-width="2.6" stroke-linecap="butt"/>
<line x1="855.2" y1="926" x2="893.4" y2="926" stroke="#222" stroke-width="2.6" stroke-linecap="butt"/>
<line x1="855.2" y1="991.3" x2="893.4" y2="991.3" stroke="#222" stroke-width="2.6" stroke-linecap="butt"/>
<line x1="835.6" y1="958.5" x2="912.9" y2="958.5" stroke="#787878" stroke-width="2.8" stroke-linecap="butt"/>
<circle cx="998.2" cy="856.2" r="5.95" fill="none" stroke="#0a98b2" stroke-width="4.25"/>
<circle cx="998.2" cy="878.2" r="5.95" fill="none" stroke="#0a98b2" stroke-width="4.25"/>
<circle cx="1011.3" cy="897.6" r="5.95" fill="none" stroke="#0a98b2" stroke-width="4.25"/>
<circle cx="971.9" cy="904.6" r="5.95" fill="none" stroke="#0a98b2" stroke-width="4.25"/>
<circle cx="998.2" cy="909.3" r="5.95" fill="none" stroke="#0a98b2" stroke-width="4.25"/>
<circle cx="985" cy="915.2" r="5.95" fill="none" stroke="#0a98b2" stroke-width="4.25"/>
<circle cx="971.9" cy="920.4" r="5.95" fill="none" stroke="#0a98b2" stroke-width="4.25"/>
<circle cx="958.6" cy="928.8" r="5.95" fill="none" stroke="#0a98b2" stroke-width="4.25"/>
<circle cx="985" cy="933" r="5.95" fill="none" stroke="#0a98b2" stroke-width="4.25"/>
<circle cx="1011.3" cy="931" r="5.95" fill="none" stroke="#0a98b2" stroke-width="4.25"/>
<circle cx="1024.9" cy="933" r="5.95" fill="none" stroke="#0a98b2" stroke-width="4.25"/>
<circle cx="971.9" cy="937.7" r="5.95" fill="none" stroke="#0a98b2" stroke-width="4.25"/>
<circle cx="998.2" cy="937" r="5.95" fill="none" stroke="#0a98b2" stroke-width="4.25"/>
<circle cx="1011.3" cy="944" r="5.95" fill="none" stroke="#0a98b2" stroke-width="4.25"/>
<circle cx="971.9" cy="953.5" r="5.95" fill="none" stroke="#0a98b2" stroke-width="4.25"/>
<circle cx="998.2" cy="952.1" r="5.95" fill="none" stroke="#0a98b2" stroke-width="4.25"/>
<circle cx="985" cy="959.7" r="5.95" fill="none" stroke="#0a98b2" stroke-width="4.25"/>
<circle cx="971.9" cy="966.7" r="5.95" fill="none" stroke="#0a98b2" stroke-width="4.25"/>
<circle cx="958.6" cy="971.7" r="5.95" fill="none" stroke="#0a98b2" stroke-width="4.25"/>
<circle cx="998.2" cy="970" r="5.95" fill="none" stroke="#0a98b2" stroke-width="4.25"/>
<circle cx="1024.9" cy="971.4" r="5.95" fill="none" stroke="#0a98b2" stroke-width="4.25"/>
<circle cx="971.9" cy="980.5" r="5.95" fill="none" stroke="#0a98b2" stroke-width="4.25"/>
<circle cx="985" cy="977.4" r="5.95" fill="none" stroke="#0a98b2" stroke-width="4.25"/>
<circle cx="1011.3" cy="979.8" r="5.95" fill="none" stroke="#0a98b2" stroke-width="4.25"/>
<circle cx="998.2" cy="986.8" r="5.95" fill="none" stroke="#0a98b2" stroke-width="4.25"/>
<circle cx="985" cy="998.8" r="5.95" fill="none" stroke="#0a98b2" stroke-width="4.25"/>
<line x1="992.3" y1="907" x2="992.3" y2="977.3" stroke="#222" stroke-width="2.6" stroke-linecap="butt"/>
<line x1="973.5" y1="907" x2="1011.1" y2="907" stroke="#222" stroke-width="2.6" stroke-linecap="butt"/>
<line x1="973.5" y1="977.3" x2="1011.1" y2="977.3" stroke="#222" stroke-width="2.6" stroke-linecap="butt"/>
<line x1="952.9" y1="942.3" x2="1030.2" y2="942.3" stroke="#787878" stroke-width="2.8" stroke-linecap="butt"/>
<line x1="1109.4" y1="871.1" x2="1109.4" y2="965.6" stroke="#222" stroke-width="2.6" stroke-linecap="butt"/>
<line x1="1090.3" y1="871.1" x2="1128.5" y2="871.1" stroke="#222" stroke-width="2.6" stroke-linecap="butt"/>
<line x1="1090.3" y1="965.6" x2="1128.5" y2="965.6" stroke="#222" stroke-width="2.6" stroke-linecap="butt"/>
<line x1="1070.3" y1="918.6" x2="1147.7" y2="918.6" stroke="#111" stroke-width="3" stroke-linecap="butt"/>
<polygon points="1098,774.05 1104.3,786.75 1091.7,786.75" fill="#00c000"/>
<polygon points="1119.7,821.35 1126,834.05 1113.4,834.05" fill="#00c000"/>
<polygon points="1076.1,888.55 1082.4,901.25 1069.8,901.25" fill="#00c000"/>
<polygon points="1119.7,894.35 1126,907.05 1113.4,907.05" fill="#00c000"/>
<polygon points="1098,900.85 1104.3,913.55 1091.7,913.55" fill="#00c000"/>
<polygon points="1142.1,898.65 1148.4,911.35 1135.8,911.35" fill="#00c000"/>
<polygon points="1076.1,913.75 1082.4,926.45 1069.8,926.45" fill="#00c000"/>
<polygon points="1119.7,912.65 1126,925.35 1113.4,925.35" fill="#00c000"/>
<polygon points="1142.1,912.65 1148.4,925.35 1135.8,925.35" fill="#00c000"/>
<polygon points="1076.1,928.15 1082.4,940.85 1069.8,940.85" fill="#00c000"/>
<polygon points="1098,924.45 1104.3,937.15 1091.7,937.15" fill="#00c000"/>
<polygon points="1119.7,927.65 1126,940.35 1113.4,940.35" fill="#00c000"/>
<polygon points="1142.1,927.25 1148.4,939.95 1135.8,939.95" fill="#00c000"/>
<polygon points="1098,937.95 1104.3,950.65 1091.7,950.65" fill="#00c000"/>
<polygon points="1142.1,940.15 1148.4,952.85 1135.8,952.85" fill="#00c000"/>
<polygon points="1076.1,945.95 1082.4,958.65 1069.8,958.65" fill="#00c000"/>
<polygon points="1142.1,959.45 1148.4,972.15 1135.8,972.15" fill="#00c000"/>
<polygon points="1119.7,966.35 1126,979.05 1113.4,979.05" fill="#00c000"/>
<polygon points="1076.1,968.95 1082.4,981.65 1069.8,981.65" fill="#00c000"/>
<line x1="1226.5" y1="906.7" x2="1226.5" y2="975.3" stroke="#222" stroke-width="2.6" stroke-linecap="butt"/>
<line x1="1207.7" y1="906.7" x2="1245.3" y2="906.7" stroke="#222" stroke-width="2.6" stroke-linecap="butt"/>
<line x1="1207.7" y1="975.3" x2="1245.3" y2="975.3" stroke="#222" stroke-width="2.6" stroke-linecap="butt"/>
<line x1="1187.8" y1="941.5" x2="1265.2" y2="941.5" stroke="#111" stroke-width="3" stroke-linecap="butt"/>
<polygon points="1242.6,879.4 1249.1,892 1236.1,892" fill="none" stroke="#04c077" stroke-width="4.9" stroke-linejoin="round"/>
<polygon points="1226.5,883.7 1233,896.3 1220,896.3" fill="none" stroke="#04c077" stroke-width="4.9" stroke-linejoin="round"/>
<polygon points="1209.7,906.7 1216.2,919.3 1203.2,919.3" fill="none" stroke="#04c077" stroke-width="4.9" stroke-linejoin="round"/>
<polygon points="1226.5,905.2 1233,917.8 1220,917.8" fill="none" stroke="#04c077" stroke-width="4.9" stroke-linejoin="round"/>
<polygon points="1242.6,912.7 1249.1,925.3 1236.1,925.3" fill="none" stroke="#04c077" stroke-width="4.9" stroke-linejoin="round"/>
<polygon points="1242.6,930.9 1249.1,943.5 1236.1,943.5" fill="none" stroke="#04c077" stroke-width="4.9" stroke-linejoin="round"/>
<polygon points="1209.7,937.4 1216.2,950 1203.2,950" fill="none" stroke="#04c077" stroke-width="4.9" stroke-linejoin="round"/>
<polygon points="1226.5,935.2 1233,947.8 1220,947.8" fill="none" stroke="#04c077" stroke-width="4.9" stroke-linejoin="round"/>
<polygon points="1193.2,940.2 1199.7,952.8 1186.7,952.8" fill="none" stroke="#04c077" stroke-width="4.9" stroke-linejoin="round"/>
<polygon points="1259.4,940.2 1265.9,952.8 1252.9,952.8" fill="none" stroke="#04c077" stroke-width="4.9" stroke-linejoin="round"/>
<polygon points="1242.6,946.6 1249.1,959.2 1236.1,959.2" fill="none" stroke="#04c077" stroke-width="4.9" stroke-linejoin="round"/>
<polygon points="1209.7,950.9 1216.2,963.5 1203.2,963.5" fill="none" stroke="#04c077" stroke-width="4.9" stroke-linejoin="round"/>
<polygon points="1226.5,970.7 1233,983.3 1220,983.3" fill="none" stroke="#04c077" stroke-width="4.9" stroke-linejoin="round"/>
<polygon points="1226.5,986.8 1233,999.4 1220,999.4" fill="none" stroke="#04c077" stroke-width="4.9" stroke-linejoin="round"/>
<polygon points="1226.5,1002.5 1233,1015.1 1220,1015.1" fill="none" stroke="#04c077" stroke-width="4.9" stroke-linejoin="round"/>
<text transform="translate(1319.5,664) scale(1.0,1.08)" font-size="41" font-weight="bold" font-style="normal" text-anchor="start" >E</text>
<line x1="1466.7" y1="686.3" x2="1466.7" y2="1164.7" stroke="#000" stroke-width="3" stroke-linecap="butt"/>
<line x1="1458.2" y1="1164.7" x2="1945" y2="1164.7" stroke="#000" stroke-width="3" stroke-linecap="butt"/>
<line x1="1458.2" y1="687.8" x2="1466.7" y2="687.8" stroke="#000" stroke-width="3" stroke-linecap="butt"/>
<text transform="translate(1455,698.5) scale(1.0,1.04)" font-size="30" font-weight="bold" font-style="normal" text-anchor="end" >45</text>
<line x1="1458.2" y1="783.2" x2="1466.7" y2="783.2" stroke="#000" stroke-width="3" stroke-linecap="butt"/>
<text transform="translate(1455,793.9) scale(1.0,1.04)" font-size="30" font-weight="bold" font-style="normal" text-anchor="end" >40</text>
<line x1="1458.2" y1="878.6" x2="1466.7" y2="878.6" stroke="#000" stroke-width="3" stroke-linecap="butt"/>
<text transform="translate(1455,889.3) scale(1.0,1.04)" font-size="30" font-weight="bold" font-style="normal" text-anchor="end" >35</text>
<line x1="1458.2" y1="973.9" x2="1466.7" y2="973.9" stroke="#000" stroke-width="3" stroke-linecap="butt"/>
<text transform="translate(1455,984.6) scale(1.0,1.04)" font-size="30" font-weight="bold" font-style="normal" text-anchor="end" >30</text>
<line x1="1458.2" y1="1069.3" x2="1466.7" y2="1069.3" stroke="#000" stroke-width="3" stroke-linecap="butt"/>
<text transform="translate(1455,1080) scale(1.0,1.04)" font-size="30" font-weight="bold" font-style="normal" text-anchor="end" >25</text>
<line x1="1458.2" y1="1164.7" x2="1466.7" y2="1164.7" stroke="#000" stroke-width="3" stroke-linecap="butt"/>
<text transform="translate(1455,1175.4) scale(1.0,1.04)" font-size="30" font-weight="bold" font-style="normal" text-anchor="end" >20</text>
<line x1="1526.1" y1="1164.7" x2="1526.1" y2="1173.7" stroke="#000" stroke-width="3" stroke-linecap="butt"/>
<text transform="translate(1503,1205.1) scale(1.0,1.04)" font-size="25.5" font-weight="normal" font-style="normal" text-anchor="start" >G3</text>
<line x1="1645.2" y1="1164.7" x2="1645.2" y2="1173.7" stroke="#000" stroke-width="3" stroke-linecap="butt"/>
<text transform="translate(1625.4,1205.1) scale(1.0,1.04)" font-size="25.5" font-weight="normal" font-style="normal" text-anchor="start" >G4</text>
<line x1="1764.3" y1="1164.7" x2="1764.3" y2="1173.7" stroke="#000" stroke-width="3" stroke-linecap="butt"/>
<text transform="translate(1754.6,1205.1) scale(1.0,1.04)" font-size="25.5" font-weight="normal" font-style="normal" text-anchor="start" >G1</text>
<line x1="1883.5" y1="1164.7" x2="1883.5" y2="1173.7" stroke="#000" stroke-width="3" stroke-linecap="butt"/>
<text transform="translate(1861.9,1205.1) scale(1.0,1.04)" font-size="25.5" font-weight="normal" font-style="normal" text-anchor="start" >G2</text>
<text transform="translate(1375.6,923.2) rotate(-90) scale(1.0,1.04)" font-size="27" font-weight="normal" text-anchor="middle" stroke="#000" stroke-width="0.6">Arbitrary Units (A.U.)</text>
<text transform="translate(1406,923.2) rotate(-90) scale(1.0,1.04)" font-size="27" font-weight="normal" text-anchor="middle" stroke="#000" stroke-width="0.6">(<tspan font-style="italic">P. gingivalis</tspan>)</text>
<circle cx="1514.9" cy="873.2" r="6.7" fill="#0000c8"/>
<circle cx="1514.9" cy="938.6" r="6.7" fill="#0000c8"/>
<circle cx="1492.9" cy="946.9" r="6.7" fill="#0000c8"/>
<circle cx="1537.5" cy="946.9" r="6.7" fill="#0000c8"/>
<circle cx="1559.9" cy="943.5" r="6.7" fill="#0000c8"/>
<line x1="1526.1" y1="898.1" x2="1526.1" y2="961.7" stroke="#222" stroke-width="2.6" stroke-linecap="butt"/>
<line x1="1506.8" y1="898.1" x2="1545.4" y2="898.1" stroke="#222" stroke-width="2.6" stroke-linecap="butt"/>
<line x1="1506.8" y1="961.7" x2="1545.4" y2="961.7" stroke="#222" stroke-width="2.6" stroke-linecap="butt"/>
<line x1="1487" y1="929.7" x2="1565.7" y2="929.7" stroke="#787878" stroke-width="2.8" stroke-linecap="butt"/>
<circle cx="1656.6" cy="868" r="5.95" fill="none" stroke="#0a98b2" stroke-width="4.25"/>
<circle cx="1634.1" cy="876.7" r="5.95" fill="none" stroke="#0a98b2" stroke-width="4.25"/>
<circle cx="1656.6" cy="885.4" r="5.95" fill="none" stroke="#0a98b2" stroke-width="4.25"/>
<circle cx="1679.2" cy="898.5" r="5.95" fill="none" stroke="#0a98b2" stroke-width="4.25"/>
<circle cx="1611.7" cy="903.4" r="5.95" fill="none" stroke="#0a98b2" stroke-width="4.25"/>
<circle cx="1623" cy="900.6" r="5.95" fill="none" stroke="#0a98b2" stroke-width="4.25"/>
<circle cx="1634.1" cy="906.2" r="5.95" fill="none" stroke="#0a98b2" stroke-width="4.25"/>
<circle cx="1645.4" cy="907.6" r="5.95" fill="none" stroke="#0a98b2" stroke-width="4.25"/>
<circle cx="1656.6" cy="906.2" r="5.95" fill="none" stroke="#0a98b2" stroke-width="4.25"/>
<circle cx="1667.9" cy="903.1" r="5.95" fill="none" stroke="#0a98b2" stroke-width="4.25"/>
<circle cx="1623" cy="913.2" r="5.95" fill="none" stroke="#0a98b2" stroke-width="4.25"/>
<circle cx="1611.7" cy="921.7" r="5.95" fill="none" stroke="#0a98b2" stroke-width="4.25"/>
<circle cx="1656.6" cy="923.1" r="5.95" fill="none" stroke="#0a98b2" stroke-width="4.25"/>
<circle cx="1667.9" cy="924.2" r="5.95" fill="none" stroke="#0a98b2" stroke-width="4.25"/>
<circle cx="1634.1" cy="928.7" r="5.95" fill="none" stroke="#0a98b2" stroke-width="4.25"/>
<circle cx="1623" cy="933.6" r="5.95" fill="none" stroke="#0a98b2" stroke-width="4.25"/>
<circle cx="1645.4" cy="935.7" r="5.95" fill="none" stroke="#0a98b2" stroke-width="4.25"/>
<circle cx="1656.6" cy="936" r="5.95" fill="none" stroke="#0a98b2" stroke-width="4.25"/>
<circle cx="1679.2" cy="932.2" r="5.95" fill="none" stroke="#0a98b2" stroke-width="4.25"/>
<circle cx="1634.1" cy="943.4" r="5.95" fill="none" stroke="#0a98b2" stroke-width="4.25"/>
<circle cx="1645.4" cy="957.5" r="5.95" fill="none" stroke="#0a98b2" stroke-width="4.25"/>
<circle cx="1667.9" cy="974.3" r="5.95" fill="none" stroke="#0a98b2" stroke-width="4.25"/>
<circle cx="1634.1" cy="983.2" r="5.95" fill="none" stroke="#0a98b2" stroke-width="4.25"/>
<circle cx="1645.4" cy="984.6" r="5.95" fill="none" stroke="#0a98b2" stroke-width="4.25"/>
<circle cx="1656.6" cy="985.6" r="5.95" fill="none" stroke="#0a98b2" stroke-width="4.25"/>
<circle cx="1634.1" cy="996.8" r="5.95" fill="none" stroke="#0a98b2" stroke-width="4.25"/>
<line x1="1645.4" y1="892.9" x2="1645.4" y2="962.8" stroke="#222" stroke-width="2.6" stroke-linecap="butt"/>
<line x1="1626.05" y1="892.9" x2="1664.75" y2="892.9" stroke="#222" stroke-width="2.6" stroke-linecap="butt"/>
<line x1="1626.05" y1="962.8" x2="1664.75" y2="962.8" stroke="#222" stroke-width="2.6" stroke-linecap="butt"/>
<line x1="1606" y1="928" x2="1684.2" y2="928" stroke="#787878" stroke-width="2.8" stroke-linecap="butt"/>
<line x1="1764.4" y1="848.3" x2="1764.4" y2="1021.4" stroke="#222" stroke-width="2.6" stroke-linecap="butt"/>
<line x1="1745.35" y1="848.3" x2="1783.45" y2="848.3" stroke="#222" stroke-width="2.6" stroke-linecap="butt"/>
<line x1="1745.35" y1="1021.4" x2="1783.45" y2="1021.4" stroke="#222" stroke-width="2.6" stroke-linecap="butt"/>
<line x1="1725.5" y1="934.5" x2="1804" y2="934.5" stroke="#111" stroke-width="3" stroke-linecap="butt"/>
<polygon points="1764.4,788.05 1770.7,800.75 1758.1,800.75" fill="#00c000"/>
<polygon points="1788.8,786.25 1795.1,798.95 1782.5,798.95" fill="#00c000"/>
<polygon points="1740.3,822.55 1746.6,835.25 1734,835.25" fill="#00c000"/>
<polygon points="1788.8,822.55 1795.1,835.25 1782.5,835.25" fill="#00c000"/>
<polygon points="1788.8,882.05 1795.1,894.75 1782.5,894.75" fill="#00c000"/>
<polygon points="1764.4,889.25 1770.7,901.95 1758.1,901.95" fill="#00c000"/>
<polygon points="1740.3,896.95 1746.6,909.65 1734,909.65" fill="#00c000"/>
<polygon points="1788.8,899.05 1795.1,911.75 1782.5,911.75" fill="#00c000"/>
<polygon points="1788.8,912.45 1795.1,925.15 1782.5,925.15" fill="#00c000"/>
<polygon points="1740.3,920.75 1746.6,933.45 1734,933.45" fill="#00c000"/>
<polygon points="1764.4,925.85 1770.7,938.55 1758.1,938.55" fill="#00c000"/>
<polygon points="1764.4,946.65 1770.7,959.35 1758.1,959.35" fill="#00c000"/>
<polygon points="1764.4,962.95 1770.7,975.65 1758.1,975.65" fill="#00c000"/>
<polygon points="1788.8,1007.65 1795.1,1020.35 1782.5,1020.35" fill="#00c000"/>
<polygon points="1740.3,1018.05 1746.6,1030.75 1734,1030.75" fill="#00c000"/>
<polygon points="1764.4,1035.85 1770.7,1048.55 1758.1,1048.55" fill="#00c000"/>
<polygon points="1788.8,1026.95 1795.1,1039.65 1782.5,1039.65" fill="#00c000"/>
<polygon points="1788.8,1049.85 1795.1,1062.55 1782.5,1062.55" fill="#00c000"/>
<polygon points="1740.3,1054.65 1746.6,1067.35 1734,1067.35" fill="#00c000"/>
<line x1="1883.5" y1="880.1" x2="1883.5" y2="1010.4" stroke="#222" stroke-width="2.6" stroke-linecap="butt"/>
<line x1="1864.45" y1="880.1" x2="1902.55" y2="880.1" stroke="#222" stroke-width="2.6" stroke-linecap="butt"/>
<line x1="1864.45" y1="1010.4" x2="1902.55" y2="1010.4" stroke="#222" stroke-width="2.6" stroke-linecap="butt"/>
<line x1="1844.8" y1="945" x2="1922.7" y2="945" stroke="#111" stroke-width="3" stroke-linecap="butt"/>
<polygon points="1883.5,847.9 1890,860.5 1877,860.5" fill="none" stroke="#04c077" stroke-width="4.9" stroke-linejoin="round"/>
<polygon points="1883.5,864.3 1890,876.9 1877,876.9" fill="none" stroke="#04c077" stroke-width="4.9" stroke-linejoin="round"/>
<polygon points="1859.4,888.1 1865.9,900.7 1852.9,900.7" fill="none" stroke="#04c077" stroke-width="4.9" stroke-linejoin="round"/>
<polygon points="1883.5,883.3 1890,895.9 1877,895.9" fill="none" stroke="#04c077" stroke-width="4.9" stroke-linejoin="round"/>
<polygon points="1907.9,888.1 1914.4,900.7 1901.4,900.7" fill="none" stroke="#04c077" stroke-width="4.9" stroke-linejoin="round"/>
<polygon points="1883.5,928.8 1890,941.4 1877,941.4" fill="none" stroke="#04c077" stroke-width="4.9" stroke-linejoin="round"/>
<polygon points="1907.9,940.7 1914.4,953.3 1901.4,953.3" fill="none" stroke="#04c077" stroke-width="4.9" stroke-linejoin="round"/>
<polygon points="1859.4,951.1 1865.9,963.7 1852.9,963.7" fill="none" stroke="#04c077" stroke-width="4.9" stroke-linejoin="round"/>
<polygon points="1883.5,950.5 1890,963.1 1877,963.1" fill="none" stroke="#04c077" stroke-width="4.9" stroke-linejoin="round"/>
<polygon points="1859.4,963.7 1865.9,976.3 1852.9,976.3" fill="none" stroke="#04c077" stroke-width="4.9" stroke-linejoin="round"/>
<polygon points="1883.5,972 1890,984.6 1877,984.6" fill="none" stroke="#04c077" stroke-width="4.9" stroke-linejoin="round"/>
<polygon points="1907.9,977.9 1914.4,990.5 1901.4,990.5" fill="none" stroke="#04c077" stroke-width="4.9" stroke-linejoin="round"/>
<polygon points="1883.5,990.4 1890,1003 1877,1003" fill="none" stroke="#04c077" stroke-width="4.9" stroke-linejoin="round"/>
<polygon points="1883.5,1102.9 1890,1115.5 1877,1115.5" fill="none" stroke="#04c077" stroke-width="4.9" stroke-linejoin="round"/>
</svg>
</body></html>
